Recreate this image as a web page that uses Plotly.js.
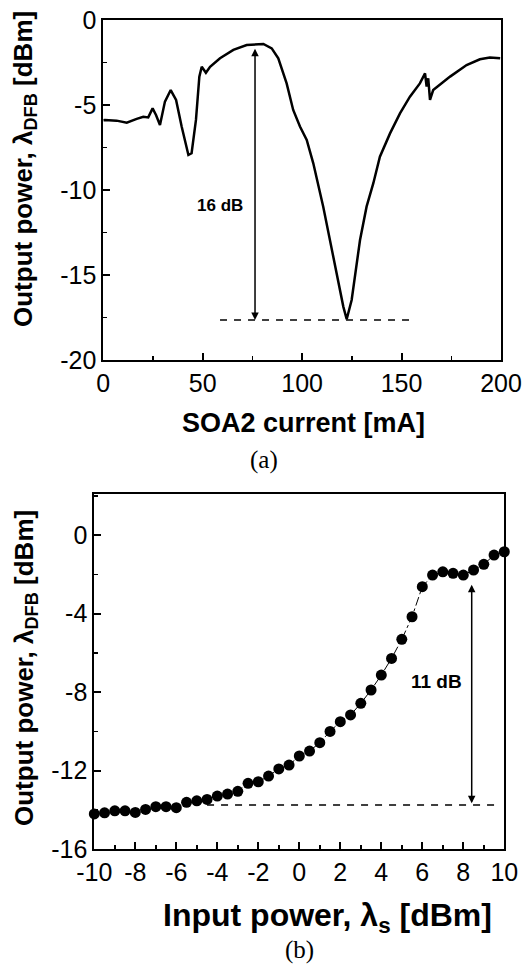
<!DOCTYPE html>
<html>
<head>
<meta charset="utf-8">
<script src="https://cdn.plot.ly/plotly-3.0.1.min.js"></script>
<style>html,body{margin:0;padding:0;background:#fff;}#chart{width:528px;height:969px;}</style>
</head>
<body>
<div id="chart"></div>
<script>
// Panel (a): output power vs SOA2 current
const currentA = [0, 0.85, 6.7, 11.8, 16.8, 20.1, 22.6, 24.8, 26.5, 28.5, 31, 33.9, 36.6, 39.4, 42.8, 44.4, 46.6, 48.3, 49.5, 51.6, 53.7, 58.7, 65.4, 72.1, 80.5, 84.7, 88, 92.2, 95.5, 98.9, 102.3, 105.6, 110.6, 114, 117.3, 120.7, 122.4, 124.9, 129.1, 132.4, 135.8, 139.1, 144.2, 149.2, 154.2, 159.2, 161.8, 162.6, 163.4, 164.3, 165.9, 174.4, 182.7, 189.4, 194.4, 199.6];
const powerA   = [-5.9, -5.88, -5.92, -6.04, -5.82, -5.69, -5.73, -5.2, -5.59, -6.18, -4.8, -4.12, -4.7, -6.27, -7.94, -7.84, -5.88, -3.33, -2.75, -3.1, -2.75, -2.25, -1.76, -1.47, -1.41, -1.67, -2.25, -3.73, -5.29, -6.27, -7.06, -8.43, -10.98, -12.94, -14.9, -16.86, -17.6, -16.47, -12.94, -10.98, -9.6, -8.04, -6.67, -5.49, -4.51, -3.73, -3.14, -3.92, -3.43, -4.7, -4.12, -3.33, -2.65, -2.31, -2.2, -2.25];
const xTicksA = [0, 50, 100, 150, 200];
const xLabelsA = ['0', '50', '100', '150', '200'];
const yTicksA = [-20, -15, -10, -5, 0];
const yLabelsA = ['-20', '-15', '-10', '-5', '0'];
// 16 dB marker: arrow at x, from top to bottom; dashed floor line
const arrowA = {x: 76.3, yTop: -1.6, yBottom: -17.65};
const floorA = {x0: 58.7, x1: 154.2, y: -17.65};
const labelA = {text: '16 dB', x: 58.7, y: -10.9};

// Panel (b): output power vs input power
const inputB = [-10, -9.5, -9, -8.5, -8, -7.5, -7, -6.5, -6, -5.5, -5, -4.5, -4, -3.5, -3, -2.5, -2, -1.5, -1, -0.5, 0, 0.5, 1, 1.5, 2, 2.5, 3, 3.5, 4, 4.5, 5, 5.5, 6, 6.5, 7, 7.5, 8, 8.5, 9, 9.5, 10];
const outputB = [-14.2, -14.14, -14.04, -14.04, -14.12, -13.97, -13.83, -13.83, -13.88, -13.61, -13.53, -13.46, -13.29, -13.19, -13.05, -12.64, -12.56, -12.27, -11.91, -11.71, -11.25, -11.0, -10.57, -10.0, -9.5, -9.16, -8.57, -7.89, -7.13, -6.28, -5.31, -4.16, -2.63, -2.04, -1.87, -1.95, -2.04, -1.78, -1.49, -1.02, -0.85];
const xTicksB = [-10, -8, -6, -4, -2, 0, 2, 4, 6, 8, 10];
const xLabelsB = ['-10', '-8', '-6', '-4', '-2', '0', '2', '4', '6', '8', '10'];
const yTicksB = [-16, -12, -8, -4, 0];
const yLabelsB = ['-16', '-12', '-8', '-4', '0'];
const arrowB = {x: 8.41, yTop: -2.46, yBottom: -13.66};
const floorB = {x0: -4.5, x1: 9.55, y: -13.75};
const labelB = {text: '11 dB', x: 6.7, y: -7.47};

const W = 528, H = 969;
const px = v => v / W;
const py = v => 1 - v / H;

const sans = 'Arial';
const serif = "'Liberation Serif', 'Times New Roman', serif";

const traces = [
  {x: currentA, y: powerA, xaxis: 'x', yaxis: 'y', mode: 'lines', line: {color: '#000', width: 2.5}, hoverinfo: 'skip'},
  {x: inputB, y: outputB, xaxis: 'x2', yaxis: 'y2', mode: 'lines+markers',
   line: {color: '#000', width: 1, dash: 'dashdot'}, marker: {color: '#000', size: 11, symbol: 'circle'}, hoverinfo: 'skip', cliponaxis: false}
];

const minorTicks = d => ({ticks: 'inside', ticklen: 4, tickwidth: 1.5, tickcolor: '#000', dtick: d, showgrid: false});

const axisCommon = {
  showgrid: false, zeroline: false, showline: true, linecolor: '#000', linewidth: 2,
  mirror: true, ticks: 'inside', ticklen: 7, tickwidth: 2, tickcolor: '#000', tickmode: 'array',
  tickfont: {family: sans, size: 25, color: '#000'}, fixedrange: true
};

const layout = {
  width: W, height: H, margin: {l: 0, r: 0, t: 0, b: 0},
  paper_bgcolor: '#fff', plot_bgcolor: '#fff', showlegend: false,
  xaxis: Object.assign({}, axisCommon, {domain: [px(103.3), px(501)], range: [0, 200], tickvals: xTicksA, ticktext: xLabelsA, anchor: 'y',
    minor: minorTicks(25)}),
  yaxis: Object.assign({}, axisCommon, {domain: [py(360), py(20)], range: [-20, 0], tickvals: yTicksA, ticktext: yLabelsA, anchor: 'x',
    minor: minorTicks(2.5), ticklabelstandoff: 0}),
  xaxis2: Object.assign({}, axisCommon, {domain: [px(94.3), px(504.3)], range: [-10, 10], tickvals: xTicksB, ticktext: xLabelsB, anchor: 'y2',
    minor: minorTicks(1)}),
  yaxis2: Object.assign({}, axisCommon, {domain: [py(849.3), py(494)], range: [-16, 2.09], tickvals: yTicksB, ticktext: yLabelsB, anchor: 'x2',
    minor: minorTicks(2), ticklabelstandoff: 0}),
  shapes: [
    {type: 'line', xref: 'x', yref: 'y', x0: floorA.x0, x1: floorA.x1, y0: floorA.y, y1: floorA.y, line: {color: '#000', width: 1.5, dash: '7px,7px'}},
    {type: 'line', xref: 'x2', yref: 'y2', x0: floorB.x0, x1: floorB.x1, y0: floorB.y, y1: floorB.y, line: {color: '#000', width: 1.5, dash: '7px,7px'}}
  ],
  annotations: [
    {xref: 'x', yref: 'y', axref: 'x', ayref: 'y', x: arrowA.x, y: arrowA.yBottom, ax: arrowA.x, ay: arrowA.yTop, text: '',
     showarrow: true, arrowside: 'end+start', arrowhead: 2, arrowsize: 1, arrowwidth: 1.5, arrowcolor: '#000'},
    {xref: 'x2', yref: 'y2', axref: 'x2', ayref: 'y2', x: arrowB.x, y: arrowB.yBottom, ax: arrowB.x, ay: arrowB.yTop, text: '',
     showarrow: true, arrowside: 'end+start', arrowhead: 2, arrowsize: 1, arrowwidth: 1.5, arrowcolor: '#000'},
    {xref: 'x', yref: 'y', x: labelA.x, y: labelA.y, text: labelA.text, showarrow: false, xanchor: 'center', yanchor: 'middle',
     font: {family: sans, size: 17, color: '#000', weight: 'bold'}},
    {xref: 'x2', yref: 'y2', x: labelB.x, y: labelB.y, text: labelB.text, showarrow: false, xanchor: 'center', yanchor: 'middle',
     font: {family: sans, size: 19, color: '#000', weight: 'bold'}},
    // axis titles
    {xref: 'paper', yref: 'paper', x: px(303), y: py(423), text: 'SOA2 current [mA]', showarrow: false, xanchor: 'center', yanchor: 'middle',
     font: {family: sans, size: 27, color: '#000', weight: 'bold'}},
    {xref: 'paper', yref: 'paper', x: px(25), y: py(169), text: 'Output power, λ<sub>DFB</sub> [dBm]', textangle: -90, showarrow: false, xanchor: 'center', yanchor: 'middle',
     font: {family: sans, size: 26, color: '#000', weight: 'bold'}},
    {xref: 'paper', yref: 'paper', x: px(327), y: py(917), text: 'Input power, λ<sub>s</sub> [dBm]', showarrow: false, xanchor: 'center', yanchor: 'middle',
     font: {family: sans, size: 32, color: '#000', weight: 'bold'}},
    {xref: 'paper', yref: 'paper', x: px(25), y: py(668), text: 'Output power, λ<sub>DFB</sub> [dBm]', textangle: -90, showarrow: false, xanchor: 'center', yanchor: 'middle',
     font: {family: sans, size: 26, color: '#000', weight: 'bold'}},
    // panel captions
    {xref: 'paper', yref: 'paper', x: px(264), y: py(460), text: '(a)', showarrow: false, xanchor: 'center', yanchor: 'middle',
     font: {family: serif, size: 25, color: '#000'}},
    {xref: 'paper', yref: 'paper', x: px(299), y: py(950), text: '(b)', showarrow: false, xanchor: 'center', yanchor: 'middle',
     font: {family: serif, size: 25, color: '#000'}}
  ]
};

Plotly.newPlot('chart', traces, layout, {staticPlot: true, displayModeBar: false});
</script>
</body>
</html>
